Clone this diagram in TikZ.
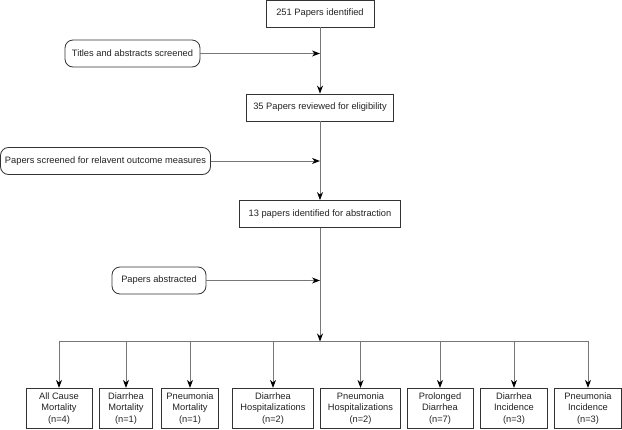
\documentclass[tikz,border=0pt]{standalone}
\usepackage{fontspec}
\setmainfont{Liberation Sans}
\usetikzlibrary{arrows.meta}
\definecolor{linec}{HTML}{777777}
\definecolor{boxc}{HTML}{333333}
\definecolor{txtc}{HTML}{222222}
\begin{document}
\begin{tikzpicture}[x=1pt,y=-1pt,
  font=\fontsize{9.3}{11.3}\selectfont,
  box/.style={draw=boxc, line width=0.8pt, text=txtc, inner sep=1pt, align=center, minimum height=27pt},
  sidebox/.style={box, rounded corners=8pt},
  outbox/.style={box, minimum height=40pt},
  conn/.style={draw=linec, line width=1pt, -{Stealth[length=8pt,width=6pt,inset=2.5pt,color=black]}},
  plain/.style={draw=linec, line width=1pt}]
\useasboundingbox (0,0) rectangle (622,429);
% main column
\node[box, minimum width=108pt] (b1) at (320,13.5) {251 Papers identified};
\node[box, minimum width=147pt] (b2) at (320,107.5) {35 Papers reviewed for eligibility};
\node[box, minimum width=161pt] (b3) at (320,214) {13 papers identified for abstraction};
% side boxes
\node[sidebox, minimum width=135pt] (s1) at (132.5,53.5) {Titles and abstracts screened};
\node[sidebox, minimum width=210pt] (s2) at (105.5,161) {Papers screened for relavent outcome measures};
\node[sidebox, minimum width=94pt] (s3) at (159,280.5) {Papers abstracted};
% junctions
\coordinate (j1) at (320,53.5);
\coordinate (j2) at (320,161);
\coordinate (j3) at (320,280.5);
\coordinate (br) at (320,341.5);
% outcome boxes
\node[outbox, minimum width=66pt] (o1) at (59,408.3) {All Cause\\Mortality\\(n=4)};
\node[outbox, minimum width=53pt] (o2) at (126,408.3) {Diarrhea\\Mortality\\(n=1)};
\node[outbox, minimum width=57pt] (o3) at (190,408.3) {Pneumonia\\Mortality\\(n=1)};
\node[outbox, minimum width=81pt] (o4) at (273,408.3) {Diarrhea\\Hospitalizations\\(n=2)};
\node[outbox, minimum width=80pt] (o5) at (360.5,408.3) {Pneumonia\\Hospitalizations\\(n=2)};
\node[outbox, minimum width=66pt] (o6) at (440,408.3) {Prolonged\\Diarrhea\\(n=7)};
\node[outbox, minimum width=67pt] (o7) at (514,408.3) {Diarrhea\\Incidence\\(n=3)};
\node[outbox, minimum width=67pt] (o8) at (588,408.3) {Pneumonia\\Incidence\\(n=3)};
% connectors
\draw[conn] (b1) -- (b2);
\draw[conn] (b2) -- (b3);
\draw[conn] (b3) -- (br);
\draw[conn] (s1) -- (j1);
\draw[conn] (s2) -- (j2);
\draw[conn] (s3) -- (j3);
\foreach \o in {o1,o2,o3,o4,o5,o6,o7,o8}{
  \draw[conn] (br) -| (\o.north);
}
\end{tikzpicture}
\end{document}
